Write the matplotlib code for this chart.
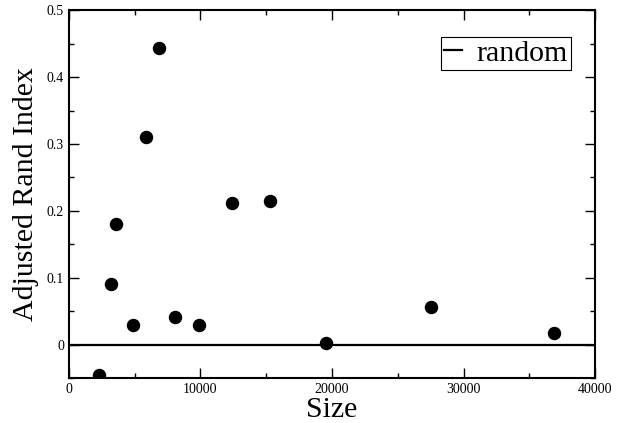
import matplotlib
matplotlib.use("Agg")
import matplotlib.pyplot as plt
from matplotlib.ticker import MultipleLocator

# --- Datos ---
tamanos = [2280, 3170, 3550, 4840, 5860, 6870, 8030, 9860, 12420, 15290, 19540, 27530, 36900]
ari = [-0.046, 0.090, 0.180, 0.030, 0.310, 0.444, 0.042, 0.030, 0.212, 0.215, 0.002, 0.056, 0.018]
linea_random = [0.0, 0.0]
x_rango = [0, 40000]

plt.rcParams['font.family'] = ['Liberation Serif', 'DejaVu Serif']

fig = plt.figure(figsize=(6.27, 4.23), dpi=100)
ax = fig.add_axes([0.110, 0.106, 0.839, 0.870])

ax.plot(x_rango, linea_random, color='black', linewidth=1.6, label='random', zorder=2)
ax.scatter(tamanos, ari, s=75, color='black', zorder=3)

ax.set_xlim(0, 40000)
ax.set_ylim(-0.05, 0.5)
ax.xaxis.set_major_locator(MultipleLocator(10000))
ax.xaxis.set_minor_locator(MultipleLocator(5000))
ax.yaxis.set_major_locator(MultipleLocator(0.1))
ax.yaxis.set_minor_locator(MultipleLocator(0.05))
ax.set_yticks([0, 0.1, 0.2, 0.3, 0.4, 0.5])
ax.set_yticklabels(['0', '0.1', '0.2', '0.3', '0.4', '0.5'])

ax.tick_params(which='both', direction='in', top=True, right=True, labelsize=10, width=1.0)
ax.tick_params(which='major', length=7.5)
ax.tick_params(which='minor', length=3.8)
for s in ax.spines.values():
    s.set_linewidth(1.5)

ax.set_xlabel("Size", fontsize=21.5, labelpad=1)
ax.set_ylabel("Adjusted Rand Index", fontsize=21.5, labelpad=6)

leg = ax.legend(loc='upper right', bbox_to_anchor=(0.954, 0.927), fontsize=21.5,
                handlelength=0.6, handletextpad=0.5, borderpad=0.1, borderaxespad=0,
                fancybox=False, framealpha=1, edgecolor='black')
leg.get_frame().set_linewidth(0.8)

plt.savefig("out.png", dpi=100)
